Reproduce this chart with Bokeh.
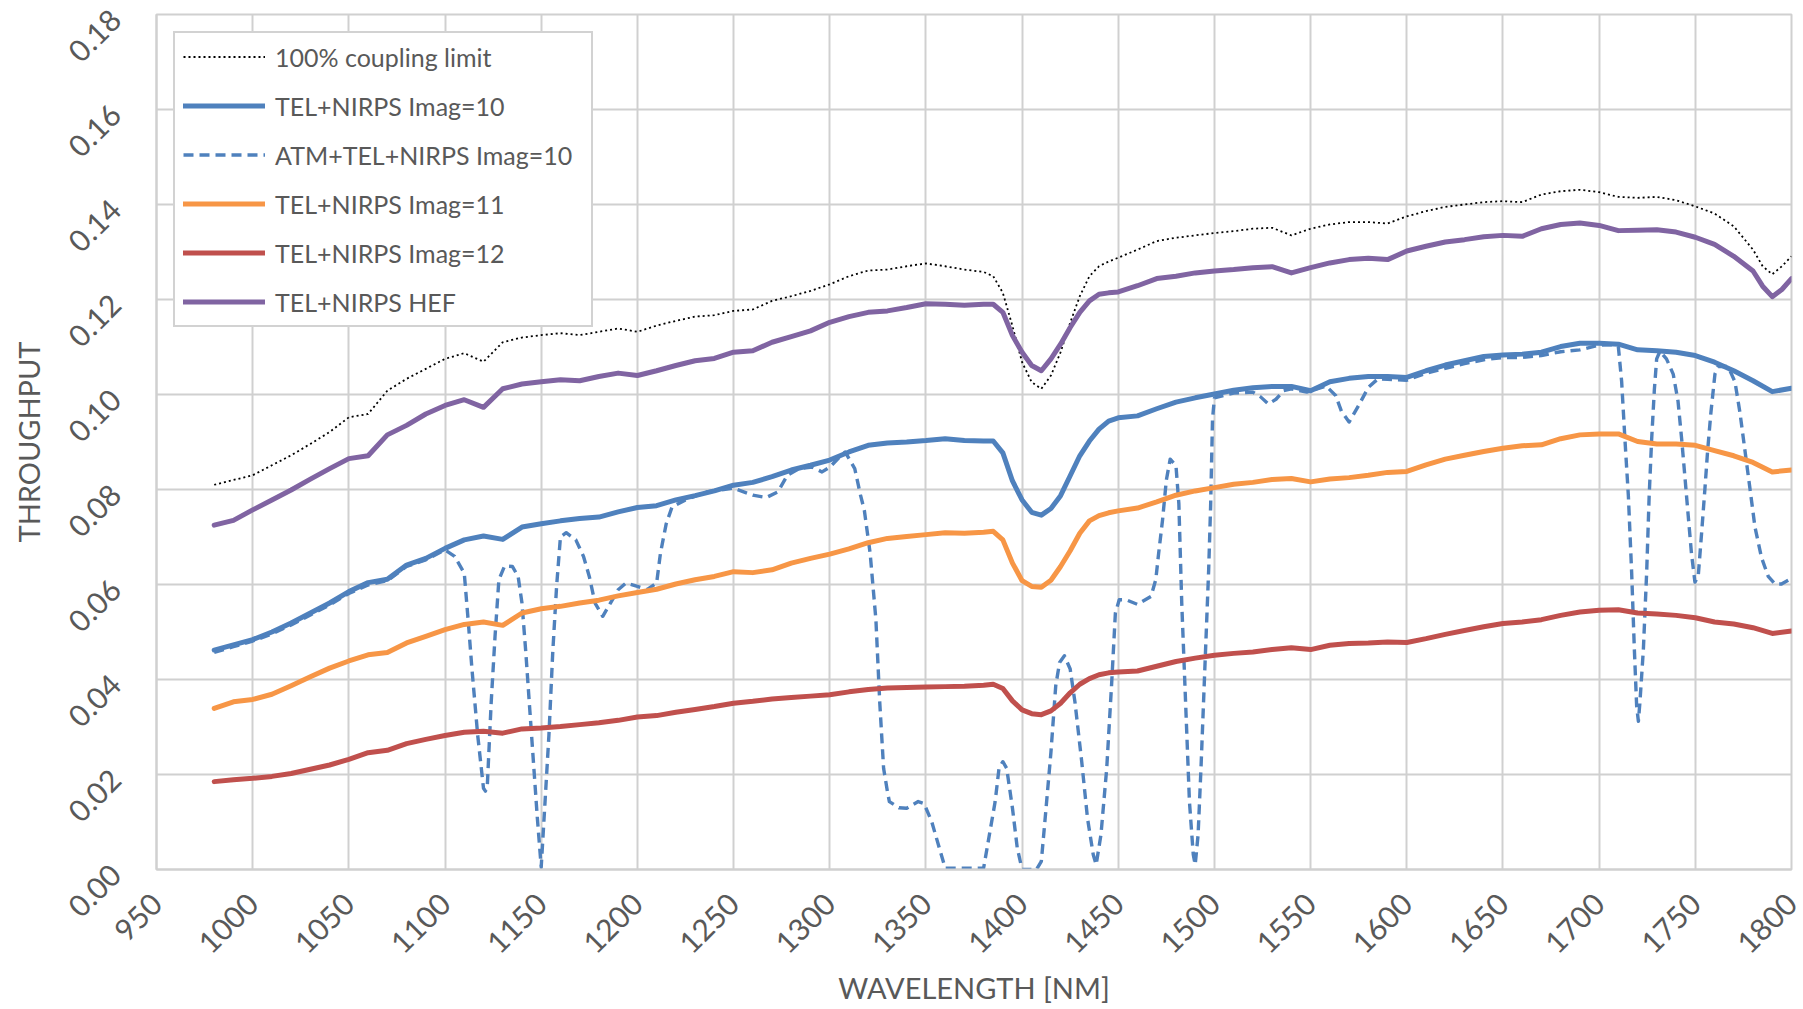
from bokeh.plotting import figure
from bokeh.models import Range1d, FixedTicker, NumeralTickFormatter, Legend, LegendItem
from bokeh.embed import file_html
from bokeh.resources import INLINE
import math

# ---------------- data ----------------
wl_main = [980, 990, 1000, 1010, 1020, 1030, 1040, 1050, 1060, 1070, 1080, 1090, 1100, 1110, 1120,
           1130, 1140, 1150, 1160, 1170, 1180, 1190, 1200, 1210, 1220, 1230, 1240, 1250, 1260, 1270,
           1280, 1290, 1300, 1310, 1320, 1330, 1340, 1350, 1360, 1370, 1380,
           1385, 1390, 1395, 1400, 1405, 1410, 1415, 1420, 1425, 1430, 1435, 1440, 1445, 1450,
           1460, 1470, 1480, 1490, 1500, 1510, 1520, 1530, 1540, 1550, 1560, 1570, 1580, 1590, 1600,
           1610, 1620, 1630, 1640, 1650, 1660, 1670, 1680, 1690, 1700, 1710, 1720, 1730, 1740, 1750,
           1760, 1770, 1780, 1790, 1800]

thr_imag10 = [0.0462, 0.0473, 0.0484, 0.0500, 0.0519, 0.0540, 0.0561, 0.0585, 0.0604, 0.0611, 0.0641,
              0.0655, 0.0676, 0.0694, 0.0702, 0.0695, 0.0721, 0.0728, 0.0734, 0.0739, 0.0742, 0.0753,
              0.0762, 0.0766, 0.0778, 0.0787, 0.0797, 0.0809, 0.0815, 0.0827, 0.0841, 0.0851, 0.0862,
              0.0879, 0.0893, 0.0898, 0.0900, 0.0903, 0.0907, 0.0903, 0.0902,
              0.0902, 0.0877, 0.0818, 0.0778, 0.0752, 0.0746, 0.0760, 0.0787, 0.0829, 0.0871, 0.0902,
              0.0927, 0.0944, 0.0951,
              0.0955, 0.0970, 0.0984, 0.0993, 0.1001, 0.1009, 0.1014, 0.1017, 0.1017, 0.1008, 0.1027,
              0.1034, 0.1038, 0.1038, 0.1036, 0.1050, 0.1062, 0.1071, 0.1080, 0.1083, 0.1085, 0.1089,
              0.1101, 0.1108, 0.1108, 0.1106, 0.1094, 0.1092, 0.1089, 0.1082, 0.1068, 0.1050, 0.1029,
              0.1006, 0.1013]

thr_imag11 = [0.0339, 0.0353, 0.0358, 0.0369, 0.0387, 0.0406, 0.0424, 0.0439, 0.0452, 0.0457, 0.0477,
              0.0491, 0.0505, 0.0516, 0.0521, 0.0514, 0.0540, 0.0549, 0.0554, 0.0561, 0.0567, 0.0576,
              0.0583, 0.0590, 0.0601, 0.0610, 0.0617, 0.0627, 0.0625, 0.0631, 0.0645, 0.0655, 0.0664,
              0.0675, 0.0688, 0.0697, 0.0701, 0.0705, 0.0709, 0.0708, 0.0710,
              0.0712, 0.0694, 0.0645, 0.0608, 0.0596, 0.0594, 0.0609, 0.0638, 0.0671, 0.0708, 0.0734,
              0.0745, 0.0751, 0.0755,
              0.0761, 0.0774, 0.0788, 0.0797, 0.0804, 0.0811, 0.0815, 0.0821, 0.0823, 0.0816, 0.0822,
              0.0825, 0.0830, 0.0836, 0.0838, 0.0852, 0.0864, 0.0872, 0.0880, 0.0887, 0.0892, 0.0894,
              0.0907, 0.0915, 0.0917, 0.0917, 0.0901, 0.0896, 0.0896, 0.0893, 0.0882, 0.0871, 0.0857,
              0.0837, 0.0841]

thr_imag12 = [0.0185, 0.0189, 0.0192, 0.0196, 0.0202, 0.0211, 0.0220, 0.0232, 0.0246, 0.0251, 0.0265,
              0.0274, 0.0282, 0.0289, 0.0291, 0.0287, 0.0296, 0.0298, 0.0301, 0.0305, 0.0309, 0.0314,
              0.0321, 0.0324, 0.0331, 0.0337, 0.0343, 0.0350, 0.0354, 0.0359, 0.0362, 0.0365, 0.0368,
              0.0374, 0.0379, 0.0382, 0.0383, 0.0384, 0.0385, 0.0386, 0.0388,
              0.0390, 0.0381, 0.0355, 0.0336, 0.0328, 0.0326, 0.0334, 0.0350, 0.0372, 0.0390, 0.0402,
              0.0410, 0.0414, 0.0416,
              0.0418, 0.0428, 0.0438, 0.0445, 0.0451, 0.0455, 0.0458, 0.0463, 0.0467, 0.0463, 0.0472,
              0.0476, 0.0477, 0.0479, 0.0478, 0.0486, 0.0495, 0.0503, 0.0511, 0.0518, 0.0521, 0.0526,
              0.0535, 0.0542, 0.0546, 0.0547, 0.0540, 0.0538, 0.0535, 0.0530, 0.0521, 0.0517, 0.0509,
              0.0497, 0.0502]

wl_top = [980, 990, 1000, 1010, 1020, 1030, 1040, 1050, 1060, 1070, 1080, 1090, 1100, 1110, 1120,
          1130, 1140, 1150, 1160, 1170, 1180, 1190, 1200, 1210, 1220, 1230, 1240, 1250, 1260, 1270,
          1280, 1290, 1300, 1310, 1320, 1330, 1340, 1350, 1360, 1370, 1380,
          1385, 1390, 1395, 1400, 1405, 1410, 1415, 1420, 1425, 1430, 1435, 1440, 1445, 1450,
          1460, 1470, 1480, 1490, 1500, 1510, 1520, 1530, 1540, 1550, 1560, 1570, 1580, 1590, 1600,
          1610, 1620, 1630, 1640, 1650, 1660, 1670, 1680, 1690, 1700, 1710, 1720, 1730, 1740, 1750,
          1760, 1770, 1780, 1785, 1790, 1795, 1800]

thr_hef = [0.0725, 0.0735, 0.0757, 0.0778, 0.0799, 0.0822, 0.0844, 0.0865, 0.0871, 0.0915, 0.0935,
           0.0959, 0.0977, 0.0989, 0.0973, 0.1012, 0.1022, 0.1027, 0.1031, 0.1029, 0.1038, 0.1045,
           0.1040, 0.1050, 0.1061, 0.1071, 0.1076, 0.1089, 0.1092, 0.1110, 0.1122, 0.1134, 0.1152,
           0.1164, 0.1173, 0.1176, 0.1183, 0.1191, 0.1190, 0.1188, 0.1190,
           0.1190, 0.1173, 0.1124, 0.1089, 0.1061, 0.1050, 0.1075, 0.1106, 0.1141, 0.1173, 0.1197,
           0.1211, 0.1214, 0.1216,
           0.1229, 0.1244, 0.1249, 0.1256, 0.1260, 0.1263, 0.1267, 0.1269, 0.1256, 0.1267, 0.1277,
           0.1284, 0.1287, 0.1284, 0.1302, 0.1312, 0.1321, 0.1326, 0.1332, 0.1335, 0.1333, 0.1349,
           0.1358, 0.1361, 0.1356, 0.1345, 0.1346, 0.1347, 0.1342, 0.1331, 0.1316, 0.1291, 0.1260,
           0.1228, 0.1206, 0.1221, 0.1244]

thr_limit = [0.0810, 0.0820, 0.0830, 0.0851, 0.0872, 0.0896, 0.0921, 0.0952, 0.0959, 0.1008, 0.1033,
             0.1054, 0.1075, 0.1087, 0.1069, 0.1110, 0.1120, 0.1125, 0.1129, 0.1125, 0.1132, 0.1139,
             0.1132, 0.1145, 0.1155, 0.1164, 0.1167, 0.1176, 0.1179, 0.1197, 0.1207, 0.1218, 0.1232,
             0.1249, 0.1261, 0.1263, 0.1270, 0.1276, 0.1270, 0.1263, 0.1258,
             0.1249, 0.1214, 0.1144, 0.1068, 0.1026, 0.1012, 0.1040, 0.1089, 0.1151, 0.1207, 0.1249,
             0.1270, 0.1280, 0.1288,
             0.1305, 0.1323, 0.1330, 0.1335, 0.1340, 0.1344, 0.1349, 0.1351, 0.1335, 0.1349, 0.1358,
             0.1363, 0.1363, 0.1360, 0.1375, 0.1386, 0.1395, 0.1400, 0.1405, 0.1407, 0.1405, 0.1421,
             0.1428, 0.1431, 0.1426, 0.1416, 0.1414, 0.1416, 0.1409, 0.1396, 0.1381, 0.1354, 0.1305,
             0.1270, 0.1253, 0.1270, 0.1291]

wl_atm = [980, 990, 1000, 1010, 1020, 1030, 1040, 1050, 1060, 1070, 1080, 1090, 1100,
          1105, 1110, 1112, 1114, 1117, 1120, 1121, 1122, 1124, 1126, 1128, 1131, 1135, 1138, 1140,
          1142, 1145, 1148, 1150, 1152, 1154, 1156, 1158, 1160, 1163, 1168, 1172, 1175, 1178, 1182,
          1186, 1190, 1194, 1200, 1205, 1210, 1212, 1215, 1218,
          1225, 1236, 1250, 1260, 1267, 1273, 1278, 1284, 1291, 1296, 1300, 1305, 1308, 1313, 1316,
          1318, 1321, 1324, 1326, 1328, 1330, 1331, 1336, 1340, 1346, 1349, 1353, 1357, 1360,
          1380, 1383, 1386, 1388, 1390, 1392, 1395, 1397.5, 1400, 1407.5, 1410, 1412, 1415, 1417.5,
          1419.5, 1422, 1425, 1427.5, 1431, 1434, 1437, 1438.5, 1441, 1444, 1446.5, 1448.5,
          1450.5, 1454, 1460, 1467, 1469.5, 1471, 1473, 1475, 1477, 1480, 1481.5, 1483, 1485, 1487,
          1489, 1490, 1491.5, 1493, 1495, 1497, 1498, 1499, 1500,
          1510, 1520, 1524, 1528, 1532, 1536, 1540, 1548, 1558, 1563, 1566, 1570, 1575, 1580, 1585,
          1590, 1600, 1610, 1620, 1630, 1640, 1650, 1660, 1670, 1680, 1690, 1700, 1708,
          1710, 1711.7, 1713.4, 1715.2, 1716.9, 1718.3, 1719.5, 1720.4, 1721.2, 1723, 1724.7, 1726,
          1727.3, 1728.7, 1729.9, 1731.6, 1735, 1738.5, 1741, 1742.9, 1744.6, 1746.3, 1748, 1749.8,
          1751.5, 1753.2, 1755, 1756.4, 1758.1, 1760.2, 1761.9, 1767, 1770.6, 1773.2, 1775.8,
          1778.4, 1781, 1784.4, 1787.9, 1791.4, 1794.8, 1800]

thr_atm = [0.0457, 0.0469, 0.0481, 0.0496, 0.0515, 0.0536, 0.0557, 0.0581, 0.0599, 0.0608, 0.0638,
           0.0652, 0.0673,
           0.0659, 0.0624, 0.0526, 0.0422, 0.0282, 0.0171, 0.0165, 0.0178, 0.0352, 0.0491, 0.0610,
           0.0639, 0.0638, 0.0617, 0.0561, 0.0457, 0.0282, 0.0108, 0.0005, 0.0143, 0.0282, 0.0457,
           0.0596, 0.0700, 0.0709, 0.0694, 0.0659, 0.0617, 0.0561, 0.0533, 0.0561, 0.0589, 0.0603,
           0.0596, 0.0589, 0.0603, 0.0666, 0.0728, 0.0763,
           0.0778, 0.0795, 0.0803, 0.0788, 0.0783, 0.0795, 0.0830, 0.0844, 0.0847, 0.0837, 0.0847,
           0.0868, 0.0879, 0.0844, 0.0788, 0.0756, 0.0666, 0.0526, 0.0352, 0.0213, 0.0164, 0.0143,
           0.0130, 0.0129, 0.0143, 0.0139, 0.0101, 0.0045, 0.0003,
           0.0003, 0.0073, 0.0143, 0.0213, 0.0227, 0.0213, 0.0129, 0.0045, 0.0, 0.0, 0.0017, 0.0108,
           0.0247, 0.0387, 0.0436, 0.0450, 0.0422, 0.0352, 0.0227, 0.0108, 0.0031, 0.0010, 0.0073,
           0.0213, 0.0387, 0.0540, 0.0568, 0.0568, 0.0558, 0.0575, 0.0610, 0.0666, 0.0735, 0.0820,
           0.0864, 0.0850, 0.0770, 0.0561, 0.0352, 0.0143, 0.0031, 0.0010, 0.0073, 0.0213, 0.0422,
           0.0631, 0.0763, 0.0948, 0.0993,
           0.1003, 0.1005, 0.0995, 0.0980, 0.0990, 0.1008, 0.1012, 0.1005, 0.1018, 0.0998, 0.0965,
           0.0942, 0.0977, 0.1015, 0.1033, 0.1032, 0.1030, 0.1045, 0.1055, 0.1065, 0.1073, 0.1078,
           0.1078, 0.1082, 0.1090, 0.1094, 0.1104, 0.1105,
           0.1100, 0.1027, 0.0906, 0.0786, 0.0625, 0.0464, 0.0344, 0.0312, 0.0352, 0.0464, 0.0625,
           0.0786, 0.0906, 0.1010, 0.1075, 0.1091, 0.1075, 0.1043, 0.0986, 0.0906, 0.0826, 0.0745,
           0.0665, 0.0605, 0.0617, 0.0705, 0.0802, 0.0882, 0.0962, 0.1043, 0.1059, 0.1059, 0.1027,
           0.0962, 0.0882, 0.0802, 0.0721, 0.0657, 0.0617, 0.0601, 0.0601, 0.0613]

x_ticks = [950, 1000, 1050, 1100, 1150, 1200, 1250, 1300, 1350, 1400, 1450, 1500, 1550, 1600,
           1650, 1700, 1750, 1800]
y_ticks = [0.0, 0.02, 0.04, 0.06, 0.08, 0.10, 0.12, 0.14, 0.16, 0.18]

series_labels = ["100% coupling limit", "TEL+NIRPS Imag=10", "ATM+TEL+NIRPS Imag=10",
                 "TEL+NIRPS Imag=11", "TEL+NIRPS Imag=12", "TEL+NIRPS HEF"]

for a, b in [(wl_main, thr_imag10), (wl_main, thr_imag11), (wl_main, thr_imag12),
             (wl_top, thr_hef), (wl_top, thr_limit), (wl_atm, thr_atm)]:
    assert len(a) == len(b), (len(a), len(b))

# ---------------- figure ----------------
FONT = "Lato"
TXT = "#595959"
GRID = "#d0d0d0"

p = figure(width=1803, height=1009, output_backend="svg", toolbar_location=None,
           x_range=Range1d(950, 1800), y_range=Range1d(0, 0.18),
           min_border_left=156, min_border_right=12, min_border_top=14, min_border_bottom=140)
p.background_fill_color = "white"
p.border_fill_color = "white"
p.outline_line_color = GRID
p.outline_line_width = 2

p.xaxis.ticker = FixedTicker(ticks=x_ticks)
p.yaxis.ticker = FixedTicker(ticks=y_ticks)
p.xgrid.ticker = FixedTicker(ticks=x_ticks)
p.ygrid.ticker = FixedTicker(ticks=y_ticks)
p.yaxis.formatter = NumeralTickFormatter(format="0.00")
p.xaxis.formatter = NumeralTickFormatter(format="0")

for g in (p.xgrid, p.ygrid):
    g.grid_line_color = GRID
    g.grid_line_width = 2

for ax in (p.xaxis, p.yaxis):
    ax.axis_line_color = GRID
    ax.axis_line_width = 2
    ax.major_tick_line_color = None
    ax.minor_tick_line_color = None
    ax.major_tick_out = 0
    ax.major_tick_in = 0
    ax.minor_tick_out = 0
    ax.minor_tick_in = 0
    ax.major_label_text_font = FONT
    ax.major_label_text_font_size = "30px"
    ax.major_label_text_color = TXT
    ax.major_label_orientation = math.pi / 4
    ax.axis_label_text_font = FONT
    ax.axis_label_text_font_size = "29px"
    ax.axis_label_text_font_style = "normal"
    ax.axis_label_text_color = TXT

p.xaxis.axis_label = "WAVELENGTH [NM]"
p.yaxis.axis_label = "THROUGHPUT"
p.xaxis.major_label_standoff = 29
p.yaxis.major_label_standoff = 41
p.xaxis.axis_label_standoff = 4
p.yaxis.axis_label_standoff = 9

BLUE = "#4f81bd"
ORANGE = "#f79646"
RED = "#c0504d"
PURPLE = "#8064a2"

r_limit = p.line(wl_top, thr_limit, line_color="black", line_width=1.8, line_dash="2 3")
r_10 = p.line(wl_main, thr_imag10, line_color=BLUE, line_width=5, line_join="round", line_cap="round")
r_atm = p.line(wl_atm, thr_atm, line_color=BLUE, line_width=3.4, line_dash="10 6", line_join="round")
r_11 = p.line(wl_main, thr_imag11, line_color=ORANGE, line_width=5, line_join="round", line_cap="round")
r_12 = p.line(wl_main, thr_imag12, line_color=RED, line_width=5, line_join="round", line_cap="round")
r_hef = p.line(wl_top, thr_hef, line_color=PURPLE, line_width=5, line_join="round", line_cap="round")

legend = Legend(items=[LegendItem(label=lab, renderers=[r]) for lab, r in
                       zip(series_labels, [r_limit, r_10, r_atm, r_11, r_12, r_hef])],
                location="top_left")
legend.margin = 17
legend.padding = 8
legend.spacing = 18
legend.glyph_width = 82
legend.glyph_height = 31
legend.label_height = 31
legend.label_width = 308
legend.label_standoff = 10
legend.label_text_font = FONT
legend.label_text_font_size = "25px"
legend.label_text_color = TXT
legend.border_line_color = "#a6a6a6"
legend.border_line_width = 2
legend.background_fill_color = "white"
legend.background_fill_alpha = 1.0
p.add_layout(legend)

open("out.html", "w").write(file_html(p, INLINE))
